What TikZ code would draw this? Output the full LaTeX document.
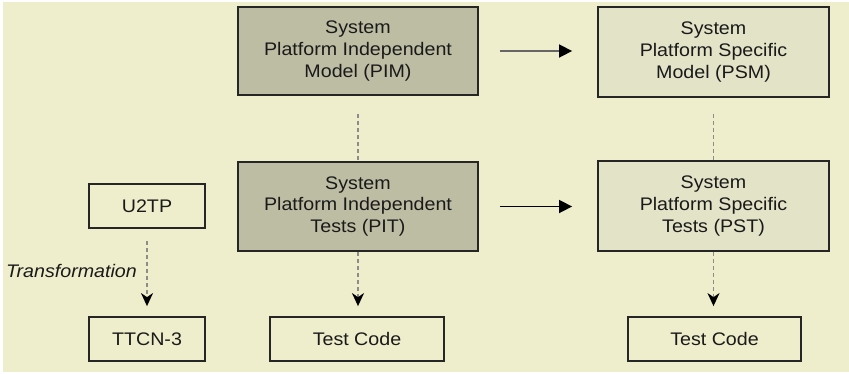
\documentclass[tikz,border=0pt]{standalone}
\usepackage{fontspec}
\setmainfont{Liberation Sans}[FakeStretch=1.08]
\usetikzlibrary{arrows.meta}
\definecolor{bgc}{HTML}{EEEECC}
\definecolor{darkfill}{HTML}{BDBDA4}
\definecolor{lightfill}{HTML}{E3E3C8}
\definecolor{txt}{HTML}{1A1A1A}
\begin{document}
\begin{tikzpicture}[x=1pt,y=-1pt,
  box/.style={draw=black!85,line width=1.8pt,text=txt,align=center,inner sep=0pt,
    font=\fontsize{18.2}{21.8}\selectfont},
  bigdark/.style={box,fill=darkfill,minimum width=240pt,minimum height=88pt},
  biglight/.style={box,fill=lightfill,minimum width=231pt,minimum height=90pt},
  smallbox/.style={box,fill=bgc,minimum height=44pt},
  solidarrow/.style={line width=1.6pt,-{Triangle[length=13pt,width=13pt]}},
  dashline/.style={draw=black!45,line width=1.5pt,dash pattern=on 4pt off 3pt},
  dasharrow/.style={dashline,-{Stealth[length=13pt,width=12pt,inset=4pt,color=black]}}
]
\useasboundingbox (0,0) rectangle (849,373);
\fill[white] (0,0) rectangle (849,373);
\fill[bgc] (3,2) rectangle (849,372);

\node[bigdark] (PIM) at (358,51) {System\\Platform Independent\\Model (PIM)};
\node[biglight] (PSM) at (713.5,52) {System\\Platform Specific\\Model (PSM)};
\node[bigdark,minimum height=89pt] (PIT) at (358,206.5) {System\\Platform Independent\\Tests (PIT)};
\node[biglight] (PST) at (713.5,206) {System\\Platform Specific\\Tests (PST)};
\node[smallbox,minimum width=116pt] (U2TP) at (147,206) {U2TP};
\node[smallbox,minimum width=116pt] (TTCN) at (147,339) {TTCN-3};
\node[smallbox,minimum width=174pt] (TC1) at (357,339) {Test Code};
\node[smallbox,minimum width=173pt] (TC2) at (714.5,339) {Test Code};

\draw[solidarrow,draw=black!60,-{Triangle[length=13pt,width=13pt,color=black]},shorten <=21pt,shorten >=25pt] (PIM.east) -- (PIM.east -| PSM.west);
\draw[solidarrow,shorten <=21pt,shorten >=25pt] (PIT.east) -- (PIT.east -| PST.west);

\draw[dashline,shorten <=18pt] (PIM.south) -- (PIT.north);
\draw[dashline,shorten <=16pt] (PSM.south) -- (PST.north);

\draw[dasharrow,shorten >=10pt] (PIT.south) -- (TC1.north -| PIT.south);
\draw[dasharrow,shorten >=10pt] (PST.south) -- (TC2.north -| PST.south);
\draw[dasharrow,shorten <=12pt,shorten >=10pt] (U2TP.south) -- (TTCN.north);

\node[anchor=east,inner sep=0pt,text=txt,font=\fontsize{18.2}{21.8}\selectfont\itshape] (T) at (137,271) {Transformation};
\end{tikzpicture}
\end{document}
